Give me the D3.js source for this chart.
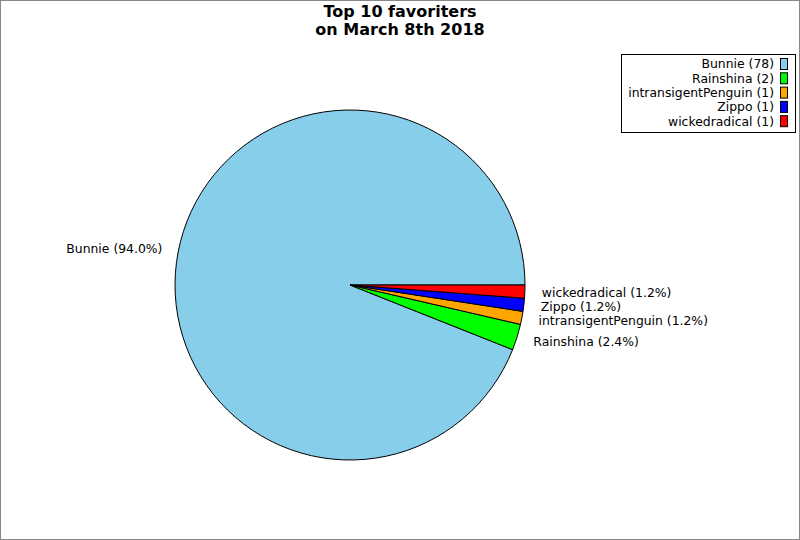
<!DOCTYPE html>
<html>
<head>
<meta charset="utf-8">
<script src="https://cdn.jsdelivr.net/npm/d3@7"></script>
<style>
  body { margin: 0; background: #fff; }
  svg { display: block; }
</style>
</head>
<body>
<svg id="chart"></svg>
<script>
// data
const names = ['Bunnie', 'Rainshina', 'intransigentPenguin', 'Zippo', 'wickedradical'];
const counts = [78, 2, 1, 1, 1];
const colors = ['#87ceeb', '#00ff00', '#ffa500', '#0000ff', '#ff0000'];
const titleLines = ['Top 10 favoriters', 'on March 8th 2018'];

const width = 800, height = 540;
const cx = 350, cy = 285, radius = 175;
const labelRadius = 191;

function translate(x, y) {
    return `translate(${x},${y})`;
}

let svg = d3.select('#chart')
    .attr('width', width)
    .attr('height', height)
    .style('font-family', '"DejaVu Sans", sans-serif');

svg.append('rect')
    .attr('x', 0.5).attr('y', 0.5)
    .attr('width', width - 1).attr('height', height - 1)
    .attr('fill', '#fff')
    .attr('stroke', '#888');

// title
svg.append('g')
    .selectAll('text')
    .data(titleLines)
    .enter()
    .append('text')
    .attr('x', 400)
    .attr('y', (d, i) => 17 + i * 18)
    .attr('text-anchor', 'middle')
    .style('font-size', '16px')
    .style('font-weight', 'bold')
    .text(d => d);

let total = d3.sum(counts);
let data = names.map((n, i) => ({ name: n, value: counts[i], color: colors[i] }));

// slices run counter-clockwise from 3 o'clock; d3 angles run clockwise from 12
let pie = d3.pie()
    .sort(null)
    .value(d => d.value)
    .startAngle(Math.PI / 2)
    .endAngle(Math.PI / 2 - 2 * Math.PI);

let arc = d3.arc().innerRadius(0).outerRadius(radius);

let g = svg.append('g').attr('transform', translate(cx, cy));

let arcs = pie(data);

g.selectAll('path')
    .data(arcs)
    .enter()
    .append('path')
    .attr('d', arc)
    .attr('fill', d => d.data.color)
    .attr('stroke', '#000')
    .attr('stroke-width', 1)
    .attr('stroke-linejoin', 'round');

let fmt = d3.format('.1f');
g.selectAll('text.label')
    .data(arcs)
    .enter()
    .append('text')
    .attr('class', 'label')
    .each(function(d) {
        let a = (d.startAngle + d.endAngle) / 2;
        let x = Math.sin(a) * labelRadius;
        let y = -Math.cos(a) * labelRadius;
        d3.select(this)
            .attr('x', x < 0 ? x : x + 1)
            .attr('y', y)
            .attr('dy', '0.35em')
            .attr('text-anchor', x < 0 ? 'end' : 'start');
    })
    .style('font-size', '12.4px')
    .text(d => `${d.data.name} (${fmt(d.data.value / total * 100)}%)`);

// legend
let legend = svg.append('g').attr('transform', translate(621, 54));
legend.append('rect')
    .attr('x', 0.5).attr('y', 0.5)
    .attr('width', 174).attr('height', 78)
    .attr('fill', '#fff')
    .attr('stroke', '#000');

let rows = legend.selectAll('g.row')
    .data(data)
    .enter()
    .append('g')
    .attr('class', 'row')
    .attr('transform', (d, i) => translate(0, 10 + i * 14.3));

rows.append('text')
    .attr('x', 153)
    .attr('dy', '0.35em')
    .attr('text-anchor', 'end')
    .style('font-size', '12.4px')
    .text(d => `${d.name} (${d.value})`);

rows.append('rect')
    .attr('x', 159.5).attr('y', -5.5)
    .attr('width', 7).attr('height', 11)
    .attr('fill', d => d.color)
    .attr('stroke', '#000');
</script>
</body>
</html>
